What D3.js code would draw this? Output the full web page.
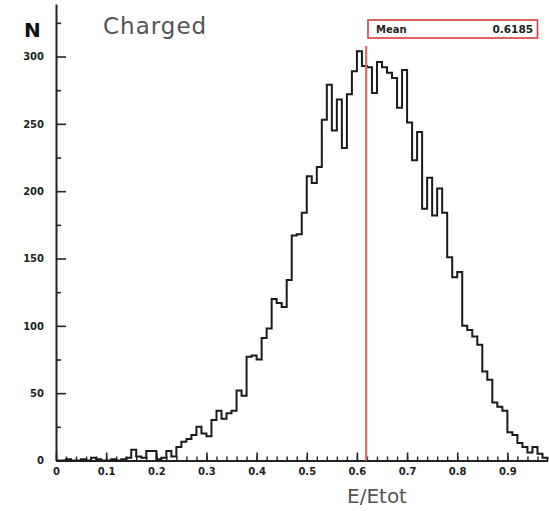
<!DOCTYPE html>
<html>
<head>
<meta charset="utf-8">
<script src="https://cdn.jsdelivr.net/npm/d3@7"></script>
<style>
  body { margin: 0; background: #fff; }
  svg { display: block; }
  .tick text { font-family: "DejaVu Sans", sans-serif; font-weight: bold; font-size: 10px; fill: #222; }
</style>
</head>
<body>
<div id="chart"></div>
<script>
// histogram of E/Etot, 98 bins of width 0.01 starting at 0
var binWidth = 0.01;
var counts = [
  0, 0, 1, 0, 0, 1, 0, 2, 1, 0,
  0, 1, 0, 1, 2, 8, 3, 2, 7, 7,
  1, 2, 7, 3, 10, 14, 16, 19, 25, 20,
  18, 30, 37, 31, 35, 37, 52, 48, 77, 78,
  75, 91, 98, 120, 117, 114, 134, 167, 168, 184,
  211, 206, 218, 253, 279, 245, 268, 232, 272, 289,
  304, 293, 292, 273, 296, 292, 288, 284, 262, 290,
  251, 223, 244, 187, 210, 182, 202, 184, 151, 136,
  140, 100, 97, 92, 86, 66, 60, 43, 40, 37,
  21, 19, 13, 10, 6, 10, 5, 2
];
var xTicks = [0, 0.1, 0.2, 0.3, 0.4, 0.5, 0.6, 0.7, 0.8, 0.9];
var yTicks = [0, 50, 100, 150, 200, 250, 300];
var meanValue = 0.6185;

var width = 549, height = 511;
var svg = d3.select("#chart").append("svg")
    .attr("width", width)
    .attr("height", height);

var xMax = counts.length * binWidth;
var x = d3.scaleLinear().domain([0, xMax]).range([56, 547.5]);
var y = d3.scaleLinear().domain([0, 339]).range([460.5, 4]);

// minor ticks
svg.append("g")
    .attr("transform", "translate(56,0)")
    .call(d3.axisLeft(y).tickValues(d3.range(25, 339, 50)).tickSizeInner(-5).tickSizeOuter(0).tickFormat(""))
    .call(g => g.select(".domain").remove())
    .selectAll("line").attr("stroke", "#222").attr("stroke-width", 1.6);

svg.append("g")
    .attr("transform", "translate(0,460.5)")
    .call(d3.axisBottom(x).tickValues(d3.range(0.02, xMax, 0.02)).tickSizeInner(-4).tickSizeOuter(0).tickFormat(""))
    .call(g => g.select(".domain").remove())
    .selectAll("line").attr("stroke", "#222").attr("stroke-width", 1.4);

// main axes
var yAxis = svg.append("g")
    .attr("transform", "translate(56,0)")
    .call(d3.axisLeft(y).tickValues(yTicks).tickSizeInner(-10).tickSizeOuter(0).tickPadding(12));
yAxis.select(".domain").attr("stroke", "#222").attr("stroke-width", 2);
yAxis.selectAll(".tick line").attr("stroke", "#222").attr("stroke-width", 1.6);

var xAxis = svg.append("g")
    .attr("transform", "translate(0,460.5)")
    .call(d3.axisBottom(x).tickValues(xTicks).tickSizeInner(-8).tickSizeOuter(0).tickPadding(7)
        .tickFormat(d => d === 0 ? "0" : d.toFixed(1)));
xAxis.select(".domain").attr("stroke", "#222").attr("stroke-width", 2);
xAxis.selectAll(".tick line").attr("stroke", "#222").attr("stroke-width", 1.6);

// histogram outline
var pts = [[0, 0]];
counts.forEach(function(c, i) { pts.push([i * binWidth, c]); });
pts.push([xMax, counts[counts.length - 1]]);
pts.push([xMax, 0]);

var line = d3.line()
    .x(d => x(d[0]))
    .y(d => y(d[1]))
    .curve(d3.curveStepAfter);

svg.append("path")
    .datum(pts)
    .attr("d", line)
    .attr("fill", "none")
    .attr("stroke", "#1a1a1a")
    .attr("stroke-width", 2)
    .attr("stroke-linejoin", "miter");

// mean line
svg.append("line")
    .attr("x1", x(meanValue)).attr("x2", x(meanValue))
    .attr("y1", 46).attr("y2", y(0))
    .attr("stroke", "#e06a6a")
    .attr("stroke-width", 2.2);

// stats box
svg.append("rect")
    .attr("x", 368).attr("y", 20)
    .attr("width", 169.5).attr("height", 18)
    .attr("fill", "#fff")
    .attr("stroke", "#d63c3c")
    .attr("stroke-width", 1.6);
svg.append("text")
    .attr("x", 376).attr("y", 33)
    .style("font-family", "DejaVu Sans, sans-serif")
    .style("font-weight", "bold")
    .style("font-size", "10px")
    .attr("fill", "#222")
    .text("Mean");
svg.append("text")
    .attr("x", 533).attr("y", 33)
    .attr("text-anchor", "end")
    .style("font-family", "DejaVu Sans, sans-serif")
    .style("font-weight", "bold")
    .style("font-size", "10.5px")
    .attr("fill", "#222")
    .text(meanValue.toFixed(4));

// labels
svg.append("text")
    .attr("x", 24).attr("y", 37)
    .style("font-family", "DejaVu Sans, sans-serif")
    .style("font-weight", "bold")
    .style("font-size", "20px")
    .attr("fill", "#111")
    .text("N");

svg.append("text")
    .attr("x", 103).attr("y", 33.5)
    .style("font-family", "DejaVu Sans, sans-serif")
    .style("font-size", "23px")
    .style("letter-spacing", "1px")
    .attr("fill", "#555")
    .text("Charged");

svg.append("text")
    .attr("x", 377).attr("y", 503)
    .attr("text-anchor", "middle")
    .style("font-family", "DejaVu Sans, sans-serif")
    .style("font-size", "20px")
    .attr("fill", "#555")
    .text("E/Etot");
</script>
</body>
</html>
